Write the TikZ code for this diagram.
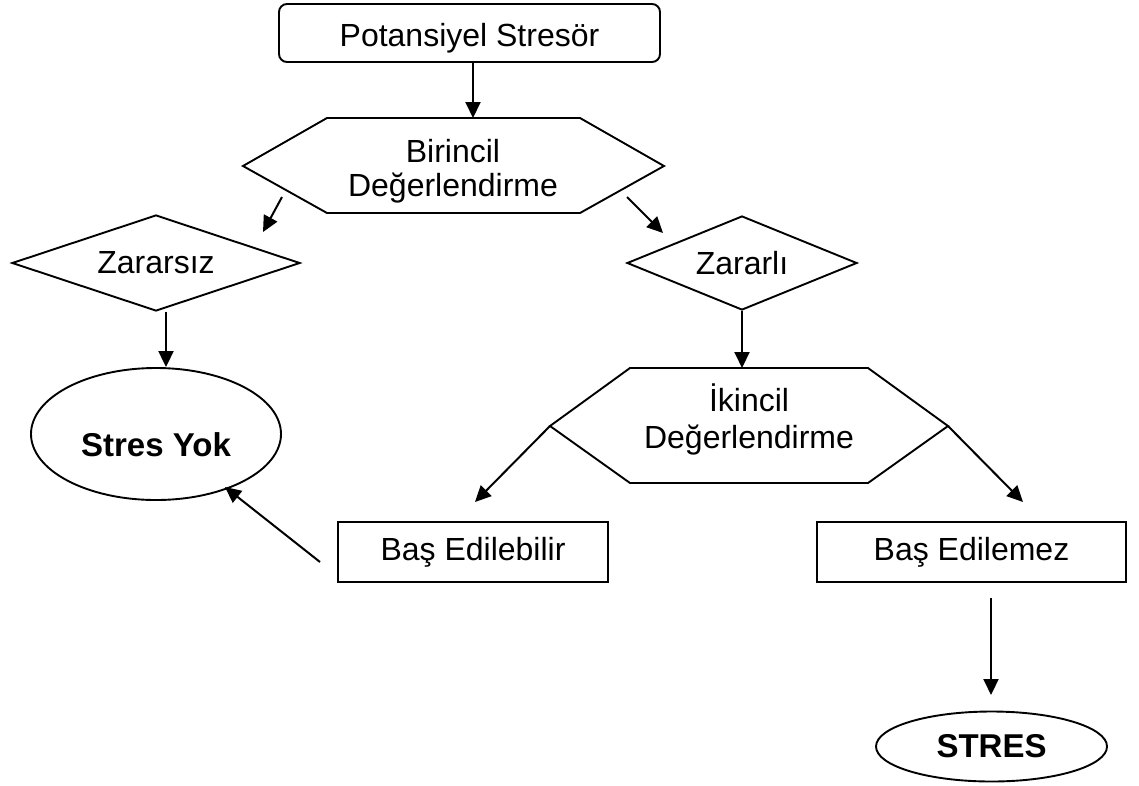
\documentclass[tikz,border=0pt]{standalone}
\usepackage{fontspec}
\setmainfont{Liberation Sans}
\usetikzlibrary{arrows.meta,shapes.geometric}
\begin{document}
\begin{tikzpicture}[x=1pt,y=-1pt,
  every node/.style={font=\fontsize{32}{35}\selectfont, inner sep=0pt},
  ln/.style={line width=1.9pt},
  arr/.style={line width=2pt, -{Triangle[length=16pt,width=15pt]}},
  sbox/.style={draw, line width=1.9pt, rectangle},
  dia/.style={draw, line width=1.9pt, diamond},
  ell/.style={draw, line width=1.9pt, ellipse},
  lbl/.style={align=center},
  boldtxt/.style={font=\fontsize{33}{36}\selectfont\bfseries}
]
\useasboundingbox (0,0) rectangle (1139,785);

% top box
\node[sbox, rounded corners=8pt, minimum width=381pt, minimum height=58pt,
      text height=34pt, text depth=6.5pt] (pot) at (469.5,33) {Potansiyel Stresör};

% hexagon 1
\coordinate (h1W)  at (243,166);
\coordinate (h1NW) at (327,118);
\coordinate (h1NE) at (580,118);
\coordinate (h1E)  at (664,166);
\coordinate (h1SE) at (580,213);
\coordinate (h1SW) at (327,213);
\draw[ln] (h1W) -- (h1NW) -- (h1NE) -- (h1E) -- (h1SE) -- (h1SW) -- cycle;
\node[lbl, font=\fontsize{32}{34}\selectfont] (h1) at (453,171.7) {Birincil\\Değerlendirme};

% diamonds
\node[dia, aspect=3, minimum width=288pt, minimum height=96pt] (zs) at (156,263) {Zararsız};
\node[dia, aspect=2.45, minimum width=230pt, minimum height=94pt] (zl) at (742,263) {Zararlı};

% ellipse Stres Yok
\node[ell, boldtxt, minimum width=250pt, minimum height=132pt,
      text height=45pt, text depth=0pt] (sy) at (156,434) {Stres Yok};

% hexagon 2
\coordinate (h2W)  at (550,426);
\coordinate (h2NW) at (630,368);
\coordinate (h2NE) at (868,368);
\coordinate (h2E)  at (948,426);
\coordinate (h2SE) at (868,483);
\coordinate (h2SW) at (630,483);
\draw[ln] (h2W) -- (h2NW) -- (h2NE) -- (h2E) -- (h2SE) -- (h2SW) -- cycle;
\node[lbl, font=\fontsize{32}{37}\selectfont] (h2) at (749,419) {İkincil\\Değerlendirme};

% boxes
\node[sbox, minimum width=270pt, minimum height=60pt] (be) at (473,552) {Baş Edilebilir};
\node[sbox, minimum width=309pt, minimum height=60pt] (bn) at (971.5,552) {Baş Edilemez};

% STRES
\node[ell, boldtxt, minimum width=231pt, minimum height=70pt] (st) at (991.5,746.5) {STRES};

% connectors
\coordinate (a1) at (473,62);
\draw[arr] (a1) -- (a1 |- h1NW);
\coordinate (a2s) at (282,197);
\coordinate (a2e) at (263,232);
\draw[arr] (a2s) -- (a2e);
\coordinate (a3s) at (627,197);
\coordinate (a3e) at (663,233);
\draw[arr] (a3s) -- (a3e);
\coordinate (a4) at (166,0);
\draw[arr] (zs.south -| a4) -- (sy.north -| a4);
\draw[arr] (zl.south) -- (zl.south |- h2NW);
\coordinate (a6) at (475,502);
\draw[arr] (h2W) -- (a6);
\coordinate (a7) at (1023,502);
\draw[arr] (h2E) -- (a7);
\coordinate (a8s) at (320,562);
\coordinate (a8e) at (225,487);
\draw[arr] (a8s) -- (a8e);
\coordinate (a9s) at (991,598);
\coordinate (a9e) at (991,695);
\draw[arr] (a9s) -- (a9e);
\end{tikzpicture}
\end{document}
